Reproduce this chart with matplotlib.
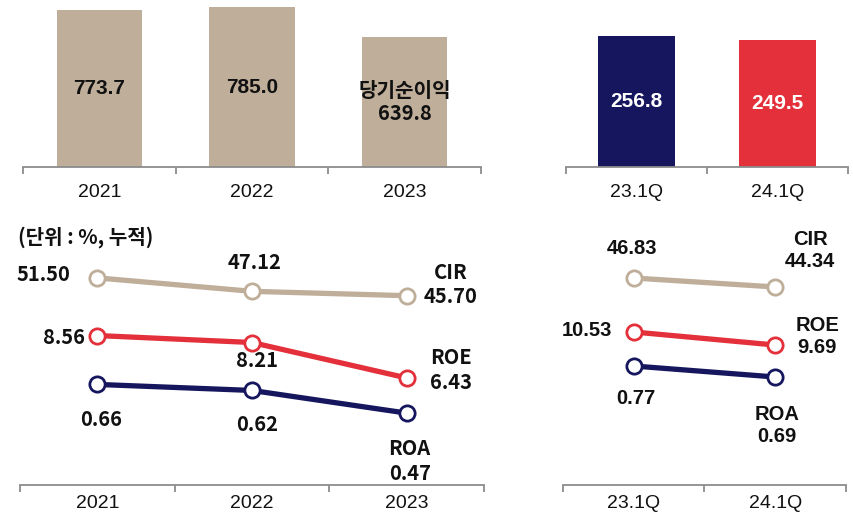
import numpy as np
import matplotlib
matplotlib.use("Agg")
import matplotlib.pyplot as plt

# ---- data ----
years = ["2021", "2022", "2023"]
net_income = [773.7, 785.0, 639.8]
quarters = ["23.1Q", "24.1Q"]
q_income = [256.8, 249.5]

cir_y = [51.50, 47.12, 45.70]
roe_y = [8.56, 8.21, 6.43]
roa_y = [0.66, 0.62, 0.47]
cir_q = [46.83, 44.34]
roe_q = [10.53, 9.69]
roa_q = [0.77, 0.69]

# ---- style ----
BEIGE = "#BFAE99"
NAVY = "#16165E"
RED = "#E3303A"
GRAY = "#8C8C8C"
LAT = ["Liberation Sans", "Noto Sans CJK KR"]
KR = ["Noto Sans CJK KR", "DejaVu Sans"]

W, H = 854, 516
fig = plt.figure(figsize=(W / 100, H / 100), dpi=100)


def box(x0, x1, ytop, ybot):
    return [x0 / W, 1 - ybot / H, (x1 - x0) / W, (ybot - ytop) / H]


def style_axis(ax, labels, pad):
    n = len(labels)
    ax.set_xlim(-0.5, n - 0.5)
    for s in ["top", "left", "right"]:
        ax.spines[s].set_visible(False)
    ax.spines["bottom"].set_color(GRAY)
    ax.spines["bottom"].set_linewidth(1.3)
    ax.set_yticks([])
    ax.set_xticks(range(n))
    ax.set_xticklabels(labels, fontsize=14, family=LAT, color="#111111")
    ax.set_xticks(np.arange(n + 1) - 0.5, minor=True)
    ax.tick_params(axis="x", which="major", length=0, pad=pad)
    ax.tick_params(axis="x", which="minor", length=5, width=1.3, color=GRAY)
    ax.patch.set_visible(False)


# ---- top bars ----
ax1 = fig.add_axes(box(23, 481, 0, 167))
style_axis(ax1, years, 12)
ax1.bar(range(3), net_income, width=0.557, color=BEIGE)
ax1.set_ylim(0, 167 / 0.2035)
bar_txt = ["773.7", "785.0", "당기순이익\n639.8"]
for i, v in enumerate(net_income):
    ax1.text(i, v / 2, bar_txt[i], ha="center", va="center",
             fontsize=15 if i < 2 else 14.5,
             fontweight="bold", family=LAT if i < 2 else KR,
             color="#111111", linespacing=1.1)

ax2 = fig.add_axes(box(566, 848, 0, 167))
style_axis(ax2, quarters, 12)
ax2.bar(range(2), q_income, width=0.553, color=[NAVY, RED])
ax2.set_ylim(0, 167 / 0.51)
for i, v in enumerate(q_income):
    ax2.text(i, v / 2, f"{v:.1f}", ha="center", va="center", fontsize=15,
             fontweight="bold", family=LAT, color="white")

# ---- bottom lines, each series on its own vertical scale ----
TOP, BOT = 215, 485


def series(ax, vals, color, scale, v0, p0, labels, fs):
    t = ax.twinx()
    t.axis("off")
    t.set_ylim(v0 - (BOT - p0) / scale, v0 + (p0 - TOP) / scale)
    t.plot(range(len(vals)), vals, color=color, lw=3.8, marker="o", ms=11,
           mfc="white", mec=color, mew=2.0, clip_on=False, zorder=3)
    for i, txt, dx, dy, fam in labels:
        t.annotate(txt, (i, vals[i]), xytext=(dx, -dy), textcoords="offset pixels",
                   ha="center", va="center", fontsize=fs, fontweight="bold",
                   family=fam, color="#111111", linespacing=1.2)


ax3 = fig.add_axes(box(20, 484, TOP, BOT))
style_axis(ax3, years, 7.5)
series(ax3, cir_y, BEIGE, 3.07, 48.107, 288.3,
       [(0, "51.50", -54, -3, KR), (1, "47.12", 3, -29, KR), (2, "CIR\n45.70", 44, -11, KR)], 14.5)
series(ax3, roe_y, RED, 19.9, 7.733, 352,
       [(0, "8.56", -33, 2, KR), (1, "8.21", 5, 18, KR), (2, "ROE\n6.43", 44, -8, KR)], 14.5)
series(ax3, roa_y, NAVY, 151, 0.5833, 396,
       [(0, "0.66", 4, 35, KR), (1, "0.62", 5, 34, KR), (2, "ROA\n0.47", 3, 48, KR)], 14.5)

ax4 = fig.add_axes(box(563, 846, TOP, BOT))
style_axis(ax4, quarters, 7.5)
series(ax4, cir_q, BEIGE, 3.61, 46.83, 278,
       [(0, "46.83", -2, -29, LAT), (1, "CIR\n44.34", 35, -36, LAT)], 14.5)
series(ax4, roe_q, RED, 15.5, 10.53, 332,
       [(0, "10.53", -47, -2, LAT), (1, "ROE\n9.69", 42, -9, LAT)], 14.5)
series(ax4, roa_q, NAVY, 137.5, 0.77, 366,
       [(0, "0.77", 2, 32, LAT), (1, "ROA\n0.69", 2, 48, LAT)], 14.5)

fig.text(18 / W, 1 - 237 / H, "(단위 : %, 누적)", ha="left", va="center",
         fontsize=14.5, fontweight="bold", family=KR, color="#111111")

fig.savefig("out.png", dpi=100)
